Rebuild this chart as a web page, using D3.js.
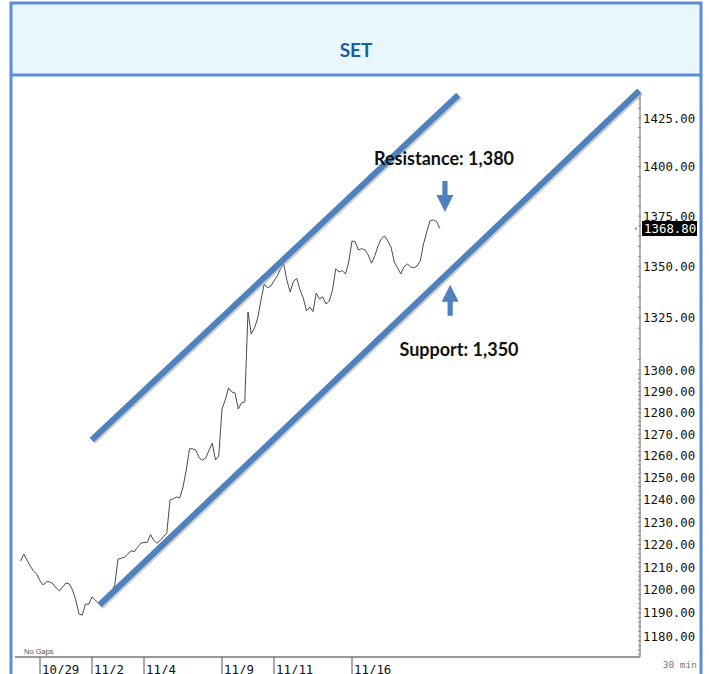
<!DOCTYPE html>
<html><head><meta charset="utf-8">
<script src="https://cdn.jsdelivr.net/npm/d3@7"></script>
<style>body{margin:0;background:#fff}svg{display:block}</style>
</head><body>
<svg id="chart" width="709" height="674"></svg>
<script>
// ---- data ----
const title = "SET";
const dayLabels = ["10/29","11/2","11/4","11/9","11/11","11/16"];
const dayBarIndex = [6,22,38,62,78,102];   // 30-min bar index where each day starts
const yTickValues = [1425,1400,1375,1350,1325,1300,1290,1280,1270,1260,1250,1240,1230,1220,1210,1200,1190,1180];
const lastPrice = 1368.80;
const price = [
 1212.6,1215.7,1213.1,1210.4,1208.3,1206.9,1203.9,1202.1,1203.6,1203.5,
 1202.6,1200.8,1199.5,1201.3,1203.0,1202.6,1200.0,1195.6,1189.5,1189.0,
 1193.8,1193.8,1196.9,1195.6,1194.1,1193.0,1195.1,1196.9,1199.1,1202.1,
 1213.5,1213.9,1214.4,1215.7,1217.2,1216.8,1218.7,1220.5,1220.9,1220.9,
 1224.4,1221.8,1220.5,1221.8,1223.6,1224.9,1239.9,1240.4,1241.3,1240.8,
 1245.8,1253.5,1263.3,1263.3,1262.6,1259.0,1258.1,1259.0,1262.6,1265.8,
 1258.1,1259.9,1281.7,1285.9,1291.6,1289.7,1289.2,1281.7,1284.5,1285.0,
 1327.8,1317.2,1320.1,1324.9,1333.6,1341.4,1339.5,1340.4,1342.9,1345.3,
 1348.8,1351.2,1342.9,1337.5,1342.7,1344.1,1338.5,1334.6,1328.3,1330.2,
 1328.0,1337.0,1334.1,1335.1,1331.7,1333.1,1338.5,1348.8,1347.3,1348.0,
 1346.3,1352.2,1362.6,1362.1,1358.1,1358.8,1358.1,1355.6,1351.6,1355.1,
 1360.1,1363.6,1365.1,1362.6,1359.6,1352.2,1349.3,1346.3,1349.8,1351.2,
 1349.8,1349.3,1350.2,1352.7,1361.1,1367.1,1372.6,1373.1,1372.3,1368.8
];
const resistanceLine = [[21.9,1267.3],[134.7,1437.0]];
const supportLine = [[24.3,1193.4],[190.4,1439.2]];
const resistanceLabel = "Resistance: 1,380";
const supportLabel = "Support: 1,350";
const resistanceArrow = {bar:130.6, tip:1377};
const supportArrow = {bar:132.2, tip:1341};

// ---- layout ----
const svg = d3.select("#chart");
const blue = "#5b8dd5", lineBlue = "#4f81bd";
const plotLeft = 15, axisX = 640, plotBottom = 657, axisTop = 92;

const x = d3.scaleLinear().domain([0,190]).range([20.5,638]);
const y = d3.scaleLog().domain([1180,1425]).range([636,118]);

// header + frame
svg.append("rect").attr("x",11).attr("y",3).attr("width",690).attr("height",72)
  .attr("fill","#e9f7fc");
svg.append("path").attr("d","M11,676 V3 H701 V676").attr("fill","none").attr("stroke",blue).attr("stroke-width",3);
svg.append("line").attr("x1",11).attr("x2",701).attr("y1",75).attr("y2",75).attr("stroke",blue).attr("stroke-width",3);
svg.append("text").attr("x",356).attr("y",57).attr("text-anchor","middle")
  .attr("font-family","Lato, 'Open Sans', sans-serif").attr("font-weight","bold").attr("font-size",19)
  .attr("fill","#1d5ca8").text(title);

// axes
const mono = "'DejaVu Sans Mono', monospace";
svg.append("line").attr("x1",plotLeft).attr("x2",axisX).attr("y1",plotBottom).attr("y2",plotBottom)
  .attr("stroke","#999").attr("stroke-width",2);
svg.append("line").attr("x1",axisX).attr("x2",axisX).attr("y1",axisTop).attr("y2",plotBottom)
  .attr("stroke","#999").attr("stroke-width",1.5);

// minor ticks
const minor = [];
for (let v=1172; v<1300; v+=2) minor.push(v);
for (let v=1300; v<=1435; v+=5) minor.push(v);
svg.append("g").selectAll("line").data(minor.filter(v=>y(v)>axisTop && y(v)<plotBottom)).join("line")
  .attr("x1",axisX-2).attr("x2",axisX+1).attr("y1",d=>y(d)).attr("y2",d=>y(d))
  .attr("stroke","#888").attr("stroke-width",1);

svg.append("g").selectAll("text").data(yTickValues).join("text")
  .attr("x",643).attr("y",d=>y(d)+4.5)
  .attr("font-family",mono).attr("font-size",12.4).attr("fill","#111")
  .text(d=>d.toFixed(2));

// last price box
svg.append("rect").attr("x",642).attr("y",y(lastPrice)-7.5).attr("width",55).attr("height",15).attr("fill","#000");
svg.append("text").attr("x",644).attr("y",y(lastPrice)+4.5)
  .attr("font-family",mono).attr("font-size",12.4).attr("fill","#fff").text(lastPrice.toFixed(2));
svg.append("circle").attr("cx",axisX-4).attr("cy",y(lastPrice)).attr("r",1).attr("fill","#777");

// x ticks
const xt = svg.append("g");
xt.selectAll("line").data(dayBarIndex).join("line")
  .attr("x1",d=>x(d)).attr("x2",d=>x(d)).attr("y1",plotBottom).attr("y2",674)
  .attr("stroke","#555").attr("stroke-width",1);
xt.selectAll("text").data(dayLabels).join("text")
  .attr("x",(d,i)=>x(dayBarIndex[i])+2).attr("y",674)
  .attr("font-family",mono).attr("font-size",12.4).attr("fill","#111").text(d=>d);

svg.append("text").attr("x",24).attr("y",654).attr("font-family","'Liberation Sans', sans-serif")
  .attr("font-size",7.5).attr("fill","#555").text("No Gaps");
svg.append("text").attr("x",697).attr("y",668).attr("text-anchor","end").attr("font-family",mono)
  .attr("font-size",9.5).attr("fill","#777").text("30 min");

// price line
const line = d3.line().x((d,i)=>x(i)).y(d=>y(d));
svg.append("path").datum(price).attr("d",line).attr("fill","none")
  .attr("stroke","#4a4a4a").attr("stroke-width",1).attr("stroke-linejoin","round");

// trend lines
const tl = d3.line().x(d=>x(d[0])).y(d=>y(d[1]));
[resistanceLine, supportLine].forEach(seg=>{
  svg.append("path").datum(seg).attr("d",tl).attr("transform","translate(1.5,1.5)")
    .attr("stroke","#aaa").attr("stroke-width",6).attr("fill","none").attr("opacity",0.6);
  svg.append("path").datum(seg).attr("d",tl)
    .attr("stroke",lineBlue).attr("stroke-width",6).attr("fill","none");
});

// arrows
function arrow(cx, tipY, dir){ // dir=1 down, -1 up
  const L=31, head=17, hw=8.5, sw=2.6;
  const baseY = tipY - dir*L, headY = tipY - dir*head;
  return `M${cx-sw},${baseY} L${cx+sw},${baseY} L${cx+sw},${headY} L${cx+hw},${headY} L${cx},${tipY} L${cx-hw},${headY} L${cx-sw},${headY} Z`;
}
svg.append("path").attr("d",arrow(x(resistanceArrow.bar), y(resistanceArrow.tip), 1)).attr("fill",lineBlue);
svg.append("path").attr("d",arrow(x(supportArrow.bar), y(supportArrow.tip), -1)).attr("fill",lineBlue);

const lab = "Lato, 'Open Sans', sans-serif";
svg.append("text").attr("x",444).attr("y",165).attr("text-anchor","middle")
  .attr("font-family",lab).attr("font-weight","bold").attr("font-size",18).attr("fill","#111").text(resistanceLabel);
svg.append("text").attr("x",459).attr("y",356).attr("text-anchor","middle")
  .attr("font-family",lab).attr("font-weight","bold").attr("font-size",18).attr("fill","#111").text(supportLabel);
</script>
</body></html>
